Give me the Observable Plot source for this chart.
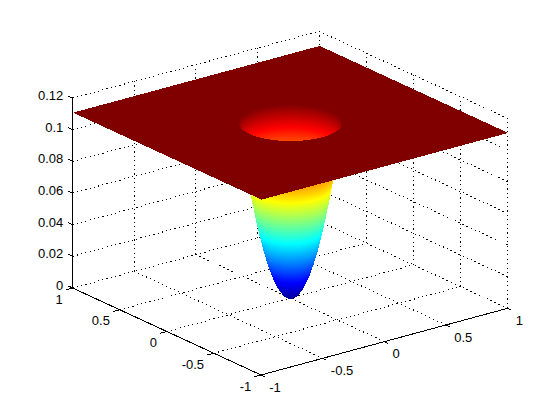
<!DOCTYPE html>
<html>
<head>
<meta charset="utf-8">
<script src="https://cdn.jsdelivr.net/npm/d3@7"></script>
<script src="https://cdn.jsdelivr.net/npm/@observablehq/plot@0.6"></script>
<style>
html,body{margin:0;padding:0;background:#fff}
svg{display:block}
</style>
</head>
<body>
<div id="chart"></div>
<script>
// ----- chart values -----
const xTicks = [-1, -0.5, 0, 0.5, 1];
const yTicks = [-1, -0.5, 0, 0.5, 1];
const zTicks = [0, 0.02, 0.04, 0.06, 0.08, 0.1, 0.12];
const xTickLabels = ["-1", "-0.5", "0", "0.5", "1"];
const yTickLabels = ["-1", "-0.5", "0", "0.5", "1"];
const zTickLabels = ["0", "0.02", "0.04", "0.06", "0.08", "0.1", "0.12"];
// surface of revolution: height read at each radius; flat beyond the last one
const profileRadius = [0, 0.025, 0.05, 0.075, 0.1, 0.125, 0.15, 0.175, 0.2, 0.225, 0.25, 0.275, 0.3, 0.325, 0.3333];
const profileHeight = [0, 0.0006, 0.0025, 0.0056, 0.01, 0.0156, 0.0225, 0.0306, 0.04, 0.0506, 0.0625, 0.0756, 0.09, 0.1056, 0.1111];
const jetColors = ["#00008f", "#0000ff", "#0080ff", "#00ffff", "#80ff80", "#ffff00", "#ff8000", "#ff0000", "#800000"];

// ----- view of the 3-D box -----
const W = 560, H = 420;
const view = {cx: 289.6, cy: 297.65, xx: 123.3, xy: -33.35, yx: -94.2, yy: -43.5, zy: -1583};
const project = (x, y, z) => [view.cx + view.xx * x + view.yx * y, view.cy + view.xy * x + view.yy * y + view.zy * z];

// ----- surface, seen through each pixel of the view -----
const rMax = profileRadius[profileRadius.length - 1];
const zTop = profileHeight[profileHeight.length - 1];
function heightAt(r) {
  const i = Math.min(d3.bisectRight(profileRadius, r), profileRadius.length - 1);
  const t = (r - profileRadius[i - 1]) / (profileRadius[i] - profileRadius[i - 1]);
  return profileHeight[i - 1] + t * (profileHeight[i] - profileHeight[i - 1]);
}
const det = view.xx * -view.yy - view.yx * -view.xy;
function groundAt(sx, sy, z) {
  const a = sx - view.cx, b = view.cy - sy + view.zy * z;
  return [(a * -view.yy - view.yx * b) / det, (view.xx * b - -view.xy * a) / det];
}
const reach = Math.hypot(view.xx, view.yx);
const surface = new Float64Array(W * H).fill(NaN);
for (let j = 0; j < H; ++j) {
  for (let i = 0; i < W; ++i) {
    const sx = i + 0.5, sy = j + 0.5;
    const [x0, y0] = groundAt(sx, sy, zTop);
    const r0 = Math.hypot(x0, y0);
    if (Math.abs(x0) <= 1 && Math.abs(y0) <= 1 && r0 >= rMax) { surface[j * W + i] = zTop; continue; }
    if (Math.abs(sx - view.cx) / reach >= rMax) continue;
    const steps = 800;
    const inHole = r0 < rMax;
    let above = inHole ? true : null;
    for (let s = 0; s <= steps; ++s) {
      const z = zTop * (1 - s / steps);
      const [x, y] = groundAt(sx, sy, z);
      const r = Math.hypot(x, y);
      if (r >= rMax) {
        if (inHole) { surface[j * W + i] = z; break; }
        if (above !== null) break;
        continue;
      }
      const now = z > heightAt(r);
      if (above !== null && now !== above) { surface[j * W + i] = z; break; }
      above = now;
    }
  }
}

// ----- box lines -----
const seg = (a, b) => { const [x1, y1] = project(...a), [x2, y2] = project(...b); return {x1, y1, x2, y2}; };
const zMax = zTicks[zTicks.length - 1];
const grid = [
  ...xTicks.map(x => seg([x, -1, 0], [x, 1, 0])),
  ...yTicks.map(y => seg([-1, y, 0], [1, y, 0])),
  ...xTicks.map(x => seg([x, 1, 0], [x, 1, zMax])),
  ...yTicks.map(y => seg([1, y, 0], [1, y, zMax])),
  ...zTicks.map(z => seg([-1, 1, z], [1, 1, z])),
  ...zTicks.map(z => seg([1, -1, z], [1, 1, z]))
];
const axes = [
  seg([-1, 1, 0], [-1, 1, zMax]),
  seg([-1, -1, 0], [1, -1, 0]),
  seg([-1, -1, 0], [-1, 1, 0]),
  ...xTicks.map(x => seg([x, -1, 0], [x, -1.04, 0])),
  ...yTicks.map(y => seg([-1, y, 0], [-1.055, y, 0])),
  ...zTicks.map(z => seg([-1, 1, z], [-1, 1.05, z]))
];
const labels = (ticks, text, at, dx, dy, anchor) =>
  ticks.map((t, i) => { const [x, y] = project(...at(t)); return {x: x + dx, y: y + dy, text: text[i], anchor}; });
const tickText = [
  ...labels(zTicks, zTickLabels, z => [-1, 1, z], -9.3, -2.3, "end"),
  ...labels(yTicks, yTickLabels, y => [-1, y, 0], -9.8, 11.5, "end"),
  ...labels(xTicks, xTickLabels, x => [x, -1, 0], 8.2, 12.5, "start")
];
const textMark = anchor => Plot.text(tickText.filter(d => d.anchor === anchor), {
  x: "x", y: "y", text: "text", textAnchor: anchor, lineAnchor: "middle", fill: "#000", fontSize: 13
});

const plot = Plot.plot({
  width: W, height: H, margin: 0,
  style: {background: "#fff", fontFamily: "'Liberation Sans', Arial, sans-serif"},
  x: {domain: [0, W], range: [0, W], axis: null},
  y: {domain: [0, H], range: [0, H], axis: null},
  color: {type: "linear", domain: [0, zTop], interpolate: d3.piecewise(d3.interpolateRgb, jetColors), legend: false},
  marks: [
    Plot.link(grid, {x1: "x1", y1: "y1", x2: "x2", y2: "y2", stroke: "#000", strokeWidth: 1, strokeDasharray: "1.2,3.2", shapeRendering: "crispEdges"}),
    Plot.link(axes, {x1: "x1", y1: "y1", x2: "x2", y2: "y2", stroke: "#000", strokeWidth: 1, shapeRendering: "crispEdges"}),
    Plot.raster(surface, {x1: 0, y1: 0, x2: W, y2: H, width: W, height: H, imageRendering: "pixelated"}),
    textMark("end"),
    textMark("start")
  ]
});
document.getElementById("chart").append(plot);
</script>
</body>
</html>
